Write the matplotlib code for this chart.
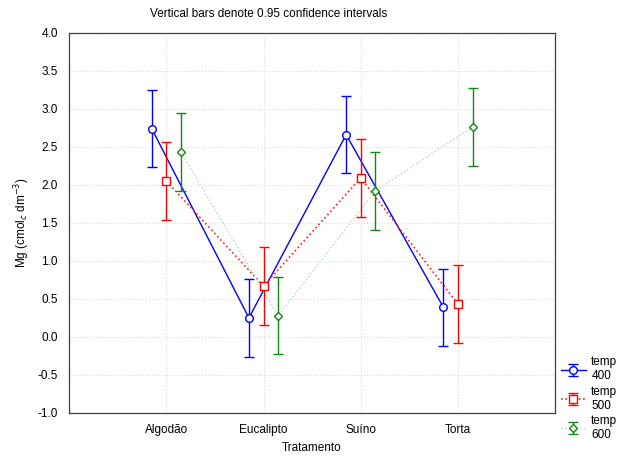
import matplotlib
matplotlib.use("Agg")
import matplotlib.pyplot as plt
import numpy as np

plt.rcParams['font.family'] = ['Liberation Sans', 'DejaVu Sans']

categories = ["Algodão", "Eucalipto", "Suíno", "Torta"]
temps = ["400", "500", "600"]
mg_400 = [2.74, 0.25, 2.66, 0.39]
mg_500 = [2.05, 0.67, 2.09, 0.43]
mg_600 = [2.43, 0.28, 1.92, 2.76]
ci_half = 0.51

series = [mg_400, mg_500, mg_600]
colors = ["#0000ff", "#ff0000", "#118811"]
line_colors = ["#0000ff", "#ff2020", "#b0dcb0"]
line_styles = ["-", ":", ":"]
line_widths = [1.0, 1.2, 1.0]
markers = ["o", "s", "D"]
msizes = [5.5, 5.5, 4.5]
offsets = [-0.15, 0.0, 0.15]

fig = plt.figure(figsize=(6.28, 4.57), dpi=100)
ax = fig.add_axes([0.11, 0.0963, 0.774, 0.832])

x = np.arange(len(categories))
handles, labels = [], []
for vals, c, lc, ls, lw, m, ms, off, t in zip(series, colors, line_colors, line_styles,
                                              line_widths, markers, msizes, offsets, temps):
    xs = x + off
    ln, = ax.plot(xs, vals, linestyle=ls, color=lc, lw=lw, zorder=2)
    eb = ax.errorbar(xs, vals, yerr=ci_half, fmt=m, color=c, mfc="white", mec=c,
                     ms=ms, capsize=3.5, elinewidth=1.0, capthick=1.0, lw=0, zorder=3)
    handles.append((ln, eb))
    labels.append(f"temp\n{t}")

ax.set_xlim(-1, 4)
ax.set_ylim(-1.0, 4.0)
ax.set_xticks(x)
ax.set_xticklabels(categories, fontsize=8.5)
yt = np.arange(-1.0, 4.01, 0.5)
ax.set_yticks(yt)
ax.set_yticklabels([f"{v:.1f}" for v in yt], fontsize=8.5)
ax.grid(True, color="#dcdcdc", linestyle=":", lw=0.8)
ax.tick_params(length=0, pad=8)
for s in ax.spines.values():
    s.set_color("#404040")
    s.set_linewidth(0.9)
ax.set_xlabel("Tratamento", fontsize=8.5, labelpad=4)
ax.set_ylabel("Mg (cmol$_c$ dm$^{-3}$)", fontsize=8.5)
fig.text(269 / 628, 1 - 14 / 457, "Vertical bars denote 0.95 confidence intervals",
         ha="center", va="center", fontsize=8.5)

fig.legend(handles, labels, loc="lower left", bbox_to_anchor=(0.885, 0.025),
           frameon=False, fontsize=8.5, handlelength=2.2, labelspacing=0.3,
           handletextpad=0.4, borderaxespad=0)

fig.savefig("out.png", dpi=100)
